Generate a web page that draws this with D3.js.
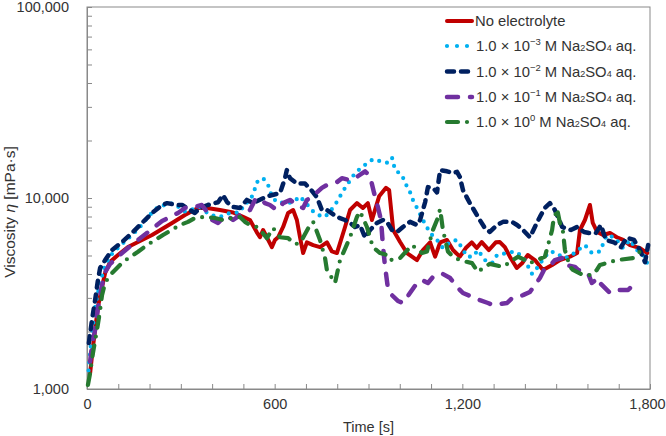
<!DOCTYPE html>
<html><head><meta charset="utf-8">
<script src="https://cdn.jsdelivr.net/npm/d3@7"></script>
<style>
body{margin:0;background:#fff}
text{font-family:"Liberation Sans",Arial,Helvetica,sans-serif;fill:#333}
</style>
</head><body>
<svg id="chart" width="666" height="436"></svg>
<script>
// ---------------- DATA ----------------
const seriesNames = ["No electrolyte","1e-3","1e-2","1e-1","1e0"];
const legendExps = [null,"\u22123","\u22122","\u22121","0"];
const xTickLabels = [0,600,1200,1800];
const yTickLabels = [1000,10000,100000];

const tRed = [10,19,35,48,58,74,99,131,208,272,313,355,384,425,467,499,521,543,553,563,575,591,601,611,627,643,659,671,681,691,703,723,745,767,783,799,825,841,863,882,898,911,934,956,966,979,1001,1023,1055,1074,1097,1113,1129,1151,1170,1192,1211,1230,1246,1262,1285,1307,1320,1336,1352,1374,1391,1409,1432,1458,1487,1512,1544,1567,1576,1592,1608,1617,1631,1650,1672,1694,1714,1736,1768,1791];
const vRed = [1210,1660,2690,3420,4050,4630,5030,5540,6400,7400,8150,8870,8870,8650,8400,7960,7670,6610,6230,6800,6230,5530,6030,6230,7050,8350,8650,7670,6230,5150,5860,5670,5530,5860,5250,5150,7050,8650,9400,8870,9400,7670,10200,11300,11000,6800,5880,5150,4730,5340,5860,4930,5860,6030,5340,4930,5470,5860,5470,5880,5340,5860,5880,5530,4930,4300,4550,5030,4730,4200,4460,4730,4930,5150,6800,7670,9190,7400,6640,6400,6560,6230,6030,5670,5470,5150];

const tBlue = [5,15,28,40,55,75,100,130,165,196,227,275,313,361,393,425,457,489,505,515,531,543,563,579,591,607,639,659,681,723,738,761,777,793,809,825,857,879,898,914,937,959,975,985,1007,1017,1033,1042,1055,1074,1097,1119,1138,1161,1183,1199,1215,1234,1250,1272,1295,1311,1343,1368,1394,1423,1439,1464,1480,1503,1522,1544,1570,1592,1614,1640,1662,1688,1714,1736,1758,1778,1794];
const vBlue = [1250,1900,2800,3500,4300,5000,5500,6100,6900,8000,9000,9400,8500,8950,8150,7960,8350,8400,9400,9500,10400,12100,12700,11700,10200,9500,9400,9500,10200,8500,8150,7960,8500,9190,10200,11300,13500,14500,15300,15950,15600,15300,16300,14000,13200,12000,10700,9770,8870,7670,6560,6030,5470,5880,6030,5470,4930,4930,5340,4730,4560,5030,5150,5250,4930,4000,4300,4930,5250,5150,4850,4930,5340,5670,5150,5250,6400,6200,5470,6030,5340,5030,4460];

const tNavy = [6,16,26,35,42,58,80,112,144,176,208,240,256,288,304,329,345,361,386,419,435,448,467,489,511,531,575,617,633,639,649,671,697,719,735,751,767,799,825,841,857,873,889,905,927,946,959,975,991,1010,1033,1055,1065,1074,1081,1090,1106,1119,1129,1151,1170,1183,1192,1202,1224,1240,1256,1272,1288,1311,1330,1359,1375,1394,1416,1432,1448,1464,1480,1496,1519,1547,1567,1589,1605,1627,1643,1659,1685,1707,1726,1749,1768,1784,1794];
const vNavy = [1740,2300,2920,3720,4300,4730,5340,5880,6560,7400,8350,9190,9400,9190,9190,8650,8350,8870,9190,9500,10370,9500,8970,8870,9770,9400,10200,10600,12700,14000,12700,11900,11900,10900,10100,8650,8650,7960,7670,7400,7050,7220,6200,6800,7400,7670,7500,6800,6640,7050,7500,7220,7670,8650,9500,11400,11300,10700,14000,13800,13500,13700,12900,11000,9400,8500,7670,6960,6640,7220,7500,7500,7220,6800,6230,7050,7960,8870,9400,8650,7050,6800,7050,6640,6560,6560,7220,6030,5860,5530,6200,6030,5340,4610,5670];

const tPurple = [10,16,26,35,48,58,74,112,131,163,208,240,272,291,313,345,367,383,400,419,445,467,499,521,537,553,569,585,607,627,649,671,691,703,719,735,751,767,799,815,841,863,889,905,918,930,940,946,953,962,975,994,1010,1026,1055,1071,1090,1106,1122,1138,1161,1183,1202,1256,1282,1298,1343,1359,1394,1416,1448,1461,1474,1496,1519,1528,1560,1570,1602,1614,1634,1640,1672,1694,1730,1752];
const vPurple = [1390,1700,2040,2650,3500,4100,4520,5150,5470,6030,6880,7580,8050,8350,8870,8970,9190,8500,7670,7400,8150,7670,8350,8650,9770,10000,9400,9190,8650,9400,9770,9190,8870,9770,10100,10700,11300,11700,12100,12700,12400,12900,13800,13000,10600,8970,7670,5670,4360,3380,3100,2890,2820,3070,3590,3720,3590,3860,4000,4000,3810,3420,3180,2920,2820,2750,2820,2990,3100,3220,3810,4200,4300,4730,4850,4460,4360,4200,4040,3590,3810,3590,3180,3300,3300,3590];

const tGreen = [3,10,19,32,42,48,58,74,115,163,192,243,297,323,345,377,409,435,464,489,505,521,543,559,575,595,617,643,665,681,713,723,745,761,767,793,809,819,841,863,873,895,914,937,959,969,1001,1039,1055,1071,1087,1106,1119,1129,1138,1154,1170,1192,1231,1250,1266,1288,1330,1378,1400,1416,1464,1487,1490,1503,1512,1522,1528,1544,1554,1586,1614,1630,1640,1694,1746,1768,1778];
const vGreen = [1050,1210,1540,2040,2590,3100,3600,3950,4630,5230,5670,6400,7220,7500,7860,7960,7860,7670,7860,7960,7500,7220,7050,6640,6160,6960,6230,6160,5740,5800,7220,7500,6030,4850,4200,3590,4730,5150,6230,7960,8500,7050,5530,5150,5030,4730,4850,5670,5400,5150,5250,6800,7670,8760,6800,5250,4930,4730,4560,4100,4300,4520,4360,4930,4730,4560,4930,6800,7400,8760,7400,6640,5340,4360,4200,3950,3950,4200,4460,4730,4850,5250,5340];

// ---------------- CHART ----------------
const svg = d3.select("#chart");
const L = 87, R = 650, T = 7, B = 389;
const x = d3.scaleLinear().domain([0,1800]).range([L,R]);
const y = d3.scaleLog().domain([1000,100000]).range([B,T]);
const axisColor = "#898989";
const fontSize = 14.5;

// plot border
svg.append("rect").attr("x",L).attr("y",T).attr("width",R-L).attr("height",B-T)
  .attr("fill","none").attr("stroke",axisColor).attr("stroke-width",1);

// x axis
const xTicks = d3.range(0,1801,100);
const gx = svg.append("g").attr("transform",`translate(0,${B})`)
  .call(d3.axisBottom(x).tickValues(xTicks).tickSizeInner(-5).tickSizeOuter(0).tickPadding(10)
    .tickFormat(d => xTickLabels.includes(d) ? d3.format(",")(d) : ""));
// y axis
const yTicks = [];
[1000,10000].forEach(p => { for (let k=1;k<10;k++) yTicks.push(p*k); });
yTicks.push(100000);
const gy = svg.append("g").attr("transform",`translate(${L},0)`)
  .call(d3.axisLeft(y).tickValues(yTicks).tickSizeInner(-5).tickSizeOuter(0).tickPadding(18)
    .tickFormat(d => yTickLabels.includes(d) ? d3.format(",")(d) : ""));
[gx,gy].forEach(g => {
  g.select(".domain").attr("stroke",axisColor);
  g.selectAll(".tick line").attr("stroke",axisColor);
  g.selectAll(".tick text").attr("font-size",fontSize).attr("fill","#333")
    .style("font-family","'Liberation Sans',Arial,sans-serif");
});
// keep the last x label inside the page
gx.selectAll(".tick text").filter(d => d === 1800).attr("dx",-3);

// axis titles
svg.append("text").attr("x",(L+R)/2).attr("y",432).attr("text-anchor","middle")
  .attr("font-size",fontSize).text("Time [s]");
const yt = svg.append("text").attr("transform",`translate(15,212) rotate(-90)`)
  .attr("text-anchor","middle").attr("font-size",15.5);
yt.append("tspan").text("Viscosity ");
yt.append("tspan").attr("font-style","italic").text("η");
yt.append("tspan").text(" [mPa·s]");

// series
const styles = [
  {color:"#C00000", width:4, dash:null},
  {color:"#00B0F0", width:4.2, dash:"0,8"},
  {color:"#002060", width:4.5, dash:"7,7"},
  {color:"#7030A0", width:4.5, dash:"11,12"},
  {color:"#267A30", width:4.2, dash:"11,9,0,9"}
];
const data = [
  d3.zip(tRed,vRed), d3.zip(tBlue,vBlue), d3.zip(tNavy,vNavy),
  d3.zip(tPurple,vPurple), d3.zip(tGreen,vGreen)
];
const line = d3.line().x(d=>x(d[0])).y(d=>y(d[1]));
const plot = svg.append("g");
data.forEach((d,i) => {
  const s = styles[i];
  plot.append("path").datum(d).attr("d",line).attr("fill","none")
    .attr("stroke",s.color).attr("stroke-width",s.width)
    .attr("stroke-linecap","round").attr("stroke-linejoin","round")
    .attr("stroke-dasharray",s.dash);
});

// legend
const legY = [21,46,71.5,97,122];
const lg = svg.append("g");
seriesNames.forEach((name,i) => {
  const s = styles[i];
  lg.append("line").attr("x1",447).attr("x2",472).attr("y1",legY[i]).attr("y2",legY[i])
    .attr("stroke",s.color).attr("stroke-width",s.width)
    .attr("stroke-linecap","round").attr("stroke-dasharray",s.dash === "0,8" ? "0,10" : s.dash);
  const t = lg.append("text").attr("x", i===0 ? 475 : 476).attr("y",legY[i]+5).attr("font-size",fontSize+0.3);
  if (legendExps[i] === null) {
    t.text(name);
  } else {
    t.append("tspan").text("1.0 × 10");
    t.append("tspan").attr("font-size",9.5).attr("dy",-6).text(legendExps[i]);
    t.append("tspan").attr("dy",6).text("  M Na");
    t.append("tspan").attr("font-size",9).attr("dy",0).text("2");
    t.append("tspan").text("SO");
    t.append("tspan").attr("font-size",9).text("4");
    t.append("tspan").text("  aq.");
  }
});
</script>
</body></html>
